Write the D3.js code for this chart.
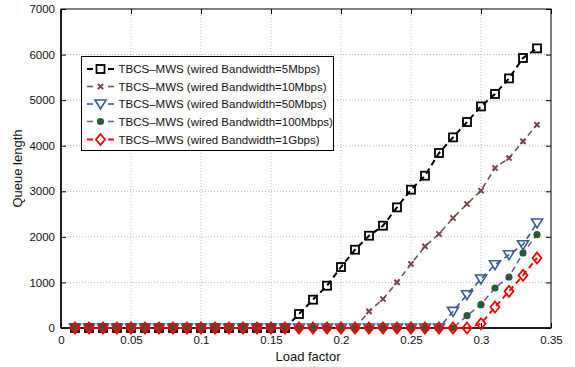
<!DOCTYPE html>
<html>
<head>
<meta charset="utf-8">
<script src="https://cdn.jsdelivr.net/npm/d3@7"></script>
<style>
body{margin:0;background:#fff;}
svg{display:block;font-family:"Liberation Sans",Arial,Helvetica,sans-serif;}
</style>
</head>
<body>
<svg id="chart" width="575" height="367"></svg>
<script>
const loadFactor = [0.01,0.02,0.03,0.04,0.05,0.06,0.07,0.08,0.09,0.10,0.11,0.12,0.13,0.14,0.15,0.16,0.17,0.18,0.19,0.20,0.21,0.22,0.23,0.24,0.25,0.26,0.27,0.28,0.29,0.30,0.31,0.32,0.33,0.34];
const bw5M   = [0,0,0,0,0,0,0,0,0,0,0,0,0,0,0,0,307,621,928,1338,1718,2025,2245,2647,3035,3342,3840,4183,4520,4863,5135,5477,5925,6136];
const bw10M  = [0,0,0,0,0,0,0,0,0,0,0,0,0,0,0,0,0,0,0,0,0,364,636,1001,1404,1791,2063,2414,2721,3013,3511,3730,4095,4461];
const bw50M  = [0,0,0,0,0,0,0,0,0,0,0,0,0,0,0,0,0,0,0,0,0,0,0,0,0,0,0,364,731,1075,1389,1608,1828,2304];
const bw100M = [0,0,0,0,0,0,0,0,0,0,0,0,0,0,0,0,0,0,0,0,0,0,0,0,0,0,0,0,270,511,878,1119,1646,2047];
const bw1G   = [0,0,0,0,0,0,0,0,0,0,0,0,0,0,0,0,0,0,0,0,0,0,0,0,0,0,0,0,0,94,461,804,1155,1536];
const seriesNames = [
  "TBCS\u2013MWS (wired Bandwidth=5Mbps)",
  "TBCS\u2013MWS (wired Bandwidth=10Mbps)",
  "TBCS\u2013MWS (wired Bandwidth=50Mbps)",
  "TBCS\u2013MWS (wired Bandwidth=100Mbps)",
  "TBCS\u2013MWS (wired Bandwidth=1Gbps)"
];
const xTicks = [0,0.05,0.1,0.15,0.2,0.25,0.3,0.35];
const yTicks = [0,1000,2000,3000,4000,5000,6000,7000];
const xLabel = "Load factor";
const yLabel = "Queue length";

const styles = [
  {line:"#000000", mark:"#000000", lw:2,   marker:"square"},
  {line:"#6b5858", mark:"#7a4444", lw:1.6, marker:"x"},
  {line:"#3c5a99", mark:"#3c5a99", lw:1.6, marker:"tri"},
  {line:"#7a5a8a", mark:"#2a5a3a", lw:1.6, marker:"dot"},
  {line:"#ff0000", mark:"#ff0000", lw:2,   marker:"diamond"}
];
const allSeries = [bw5M,bw10M,bw50M,bw100M,bw1G];

const svg = d3.select("#chart");
const L=61, R=551, T=9, B=328;
const x = d3.scaleLinear().domain([0,0.35]).range([L,R]);
const y = d3.scaleLinear().domain([0,7000]).range([B,T]);

// grid
const g = svg.append("g");
g.selectAll(".gx").data(xTicks.slice(1,-1)).enter().append("line")
  .attr("x1",d=>x(d)).attr("x2",d=>x(d)).attr("y1",T).attr("y2",B)
  .attr("stroke","#b8b8b8").attr("stroke-width",1).attr("stroke-dasharray","1,2");
g.selectAll(".gy").data(yTicks.slice(1,-1)).enter().append("line")
  .attr("x1",L).attr("x2",R).attr("y1",d=>y(d)).attr("y2",d=>y(d))
  .attr("stroke","#b8b8b8").attr("stroke-width",1).attr("stroke-dasharray","1,2");

// axes
const xAxis = d3.axisBottom(x).tickValues(xTicks).tickFormat(d=>d===0?"0":String(d)).tickSizeInner(-5).tickSizeOuter(0).tickPadding(8);
const yAxis = d3.axisLeft(y).tickValues(yTicks).tickFormat(d3.format("d")).tickSizeInner(-5).tickSizeOuter(0).tickPadding(6);
const ax = svg.append("g").attr("transform",`translate(0,${B})`).call(xAxis);
const ay = svg.append("g").attr("transform",`translate(${L},0)`).call(yAxis);
const axTop = svg.append("g").attr("transform",`translate(0,${T})`).call(d3.axisTop(x).tickValues(xTicks).tickSizeInner(-5).tickSizeOuter(0).tickFormat(""));
const ayR = svg.append("g").attr("transform",`translate(${R},0)`).call(d3.axisRight(y).tickValues(yTicks).tickSizeInner(-5).tickSizeOuter(0).tickFormat(""));
[ax,ay,axTop,ayR].forEach(a=>{
  a.select(".domain").remove();
  a.selectAll("line").attr("stroke","#000");
  a.selectAll("text").attr("font-size","11.5px").attr("fill","#111").attr("font-family","'Liberation Sans',Arial,sans-serif");
});
svg.append("rect").attr("x",L).attr("y",T).attr("width",R-L).attr("height",B-T)
  .attr("fill","none").attr("stroke","#000").attr("stroke-width",1);
svg.append("line").attr("x1",L).attr("x2",L).attr("y1",T).attr("y2",B).attr("stroke","#000").attr("stroke-width",1.5);
svg.append("line").attr("x1",L).attr("x2",R).attr("y1",B).attr("y2",B).attr("stroke","#000").attr("stroke-width",1.5);

svg.append("text").attr("x",(L+R)/2+2).attr("y",361).attr("text-anchor","middle")
  .attr("font-size","13px").attr("fill","#111").text(xLabel);
svg.append("text").attr("transform",`translate(22,${(T+B)/2}) rotate(-90)`).attr("text-anchor","middle")
  .attr("font-size","13px").attr("fill","#111").text(yLabel);

function drawMarker(sel, type, color, cx, cy){
  if(type==="square"){
    sel.append("rect").attr("x",cx-4).attr("y",cy-4).attr("width",8).attr("height",8)
      .attr("fill","none").attr("stroke",color).attr("stroke-width",1.8);
  } else if(type==="x"){
    const s=2.6;
    sel.append("path").attr("d",`M${cx-s},${cy-s}L${cx+s},${cy+s}M${cx-s},${cy+s}L${cx+s},${cy-s}`)
      .attr("stroke",color).attr("stroke-width",2).attr("fill","none");
  } else if(type==="tri"){
    sel.append("path").attr("d",`M${cx-5.5},${cy-4}L${cx+5.5},${cy-4}L${cx},${cy+5}Z`)
      .attr("fill","none").attr("stroke",color).attr("stroke-width",1.6);
  } else if(type==="dot"){
    sel.append("circle").attr("cx",cx).attr("cy",cy).attr("r",3.6).attr("fill",color);
  } else if(type==="diamond"){
    sel.append("path").attr("d",`M${cx},${cy-5.5}L${cx+4.5},${cy}L${cx},${cy+5.5}L${cx-4.5},${cy}Z`)
      .attr("fill","none").attr("stroke",color).attr("stroke-width",1.8);
  }
}

const plot = svg.append("g");
allSeries.forEach((vals,i)=>{
  const st = styles[i];
  const pts = loadFactor.map((lf,j)=>[lf,vals[j]]);
  const line = d3.line().x(d=>x(d[0])).y(d=>y(d[1]));
  plot.append("path").attr("d",line(pts)).attr("fill","none")
    .attr("stroke",st.line).attr("stroke-width",st.lw).attr("stroke-dasharray","6,4");
  const mg = plot.append("g");
  pts.forEach(p=>drawMarker(mg, st.marker, st.mark, x(p[0]), y(p[1])));
});

// legend
const lg = svg.append("g");
lg.append("rect").attr("x",81.5).attr("y",56.5).attr("width",252).attr("height",94)
  .attr("fill","#fff").attr("stroke","#000").attr("stroke-width",1);
const rowY = [69,86.5,104,121.5,139.5];
seriesNames.forEach((name,i)=>{
  const st = styles[i];
  const yy = rowY[i];
  lg.append("line").attr("x1",87).attr("x2",93).attr("y1",yy).attr("y2",yy).attr("stroke",st.line).attr("stroke-width",st.lw);
  lg.append("line").attr("x1",108).attr("x2",114).attr("y1",yy).attr("y2",yy).attr("stroke",st.line).attr("stroke-width",st.lw);
  drawMarker(lg, st.marker, st.mark, 100.5, yy);
  lg.append("text").attr("x",118.5).attr("y",yy+4).attr("font-size","11.5px").attr("fill","#111").text(name);
});
</script>
</body>
</html>
